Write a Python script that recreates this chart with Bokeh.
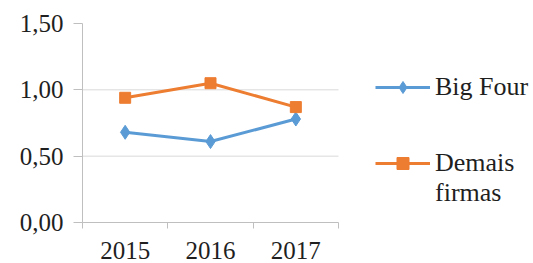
from bokeh.plotting import figure
from bokeh.models import FixedTicker, Legend, LegendItem, Range1d
from bokeh.embed import file_html
from bokeh.resources import INLINE

years = ["2015", "2016", "2017"]
big_four = [0.68, 0.61, 0.78]
demais = [0.94, 1.05, 0.87]
y_ticks = [0.0, 0.5, 1.0, 1.5]
y_labels = ["0,00", "0,50", "1,00", "1,50"]
grid_values = [0.5, 1.0]

n = len(years)
xs = [i + 0.5 for i in range(n)]

W, H = 533, 263
LEFT, TOP, BOTTOM = 82, 23, 41
PLOT_W = 256  # pixel width of the category area
frame_w = W - LEFT
x_end = n * frame_w / PLOT_W

p = figure(width=W, height=H, output_backend="svg", toolbar_location=None,
           x_range=Range1d(0, x_end), y_range=Range1d(0, 1.5),
           min_border_left=LEFT, min_border_right=0, min_border_top=TOP,
           min_border_bottom=BOTTOM)
p.outline_line_color = None
p.background_fill_color = None
p.border_fill_color = "white"

FONT = "Liberation Serif"
TXT = "#1f1f1f"
AX = "#bfbfbf"

# x axis
p.xaxis.bounds = (0, n)
p.xaxis.ticker = FixedTicker(ticks=xs, minor_ticks=list(range(n + 1)))
p.xaxis.major_label_overrides = {x: y for x, y in zip(xs, years)}
p.xaxis.major_tick_out = 0
p.xaxis.major_tick_in = 0
p.xaxis.minor_tick_out = 6
p.xaxis.minor_tick_in = 0
p.xaxis.minor_tick_line_color = AX
p.xaxis.axis_line_color = AX
p.xaxis.major_label_standoff = 13
p.xaxis.major_label_text_font = FONT
p.xaxis.major_label_text_font_size = "25px"
p.xaxis.major_label_text_color = TXT

# y axis
p.yaxis.ticker = FixedTicker(ticks=y_ticks, minor_ticks=[])
p.yaxis.major_label_overrides = {t: l for t, l in zip(y_ticks, y_labels)}
p.yaxis.major_tick_out = 9
p.yaxis.major_tick_in = 0
p.yaxis.major_tick_line_color = AX
p.yaxis.axis_line_color = AX
p.yaxis.major_label_standoff = 10
p.yaxis.major_label_text_font = FONT
p.yaxis.major_label_text_font_size = "25px"
p.yaxis.major_label_text_color = TXT

p.xgrid.grid_line_color = None
p.ygrid.grid_line_color = None
p.segment(x0=[0] * len(grid_values), x1=[n] * len(grid_values),
          y0=grid_values, y1=grid_values, line_color="#d9d9d9", line_width=1)

BLUE = "#5B9BD5"
ORANGE = "#ED7D31"

l1 = p.line(xs, big_four, line_color=BLUE, line_width=3)
m1 = p.scatter(xs, big_four, marker="diamond", size=14, fill_color=BLUE, line_color=BLUE)
l2 = p.line(xs, demais, line_color=ORANGE, line_width=3)
m2 = p.scatter(xs, demais, marker="square", size=11, fill_color=ORANGE, line_color=ORANGE)

common = dict(padding=0, margin=0, spacing=0, glyph_width=55, glyph_height=30,
              label_standoff=5, border_line_color=None, background_fill_alpha=0,
              label_text_font=FONT, label_text_font_size="26px",
              label_text_color=TXT, label_height=30)

legend_a = Legend(items=[LegendItem(label="Big Four", renderers=[l1, m1])],
                  location=(293, 120), **common)
legend_b = Legend(items=[LegendItem(label="Demais", renderers=[l2, m2]),
                         LegendItem(label="firmas", renderers=[])],
                  location=(293, 14), **common)
p.add_layout(legend_a, "center")
p.add_layout(legend_b, "center")

open("out.html", "w").write(file_html(p, INLINE))
